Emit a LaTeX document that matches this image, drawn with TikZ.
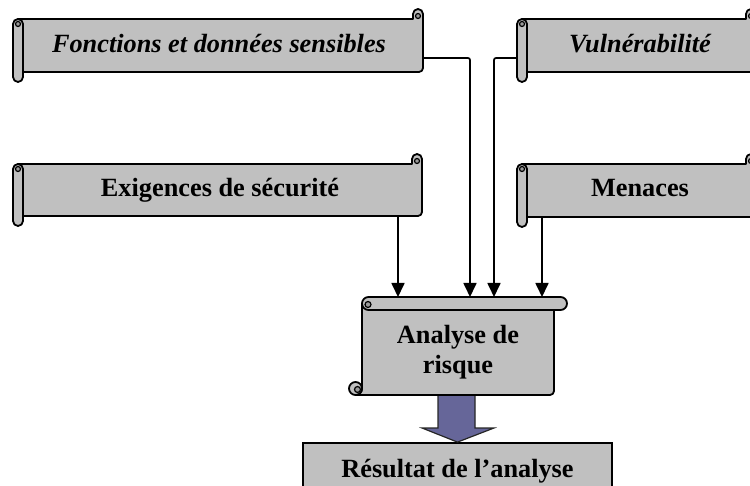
\documentclass[tikz,border=0pt]{standalone}
\usepackage{fontspec}
\setmainfont{Liberation Serif}
\usetikzlibrary{arrows.meta,calc}

\definecolor{scrollgray}{HTML}{C0C0C0}
\definecolor{curlgray}{HTML}{9A9A9A}
\definecolor{arrowfill}{HTML}{666699}

\tikzset{
  scroll/.style={fill=scrollgray, draw=black, line width=1.8pt, line join=round},
  curl/.style={fill=curlgray, draw=black, line width=1.2pt},
  label/.style={font=\fontsize{26.3}{30}\selectfont\bfseries, align=center, inner sep=0pt},
  conn/.style={draw=black, line width=1.7pt, rounded corners=2pt,
               -{Triangle[length=14pt,width=13pt]}},
  bigarrow/.style={fill=arrowfill, draw=black!85, line width=1.2pt, line join=miter},
  plainbox/.style={fill=scrollgray, draw=black, line width=1.8pt},
}

% Horizontal scroll: left, right, top, bottom (y measured downwards)
\newcommand\hscrollshape[4]{%
  \draw[scroll] ({#1+5},{-(#3+10)}) -- ({#2-10},{-(#3+10)}) -- ({#2-10},{-(#3+5)})
    arc[start angle=180,end angle=0,radius=5] -- ({#2},{-(#4-14)})
    arc[start angle=0,end angle=-90,radius=4] -- ({#1+5},{-(#4-10)}) -- cycle;
  \draw[curl] ({#2-5},{-(#3+7)}) circle[radius=2.5];
  \draw[scroll, rounded corners=5pt] ({#1},{-(#3+10)}) rectangle ({#1+10},{-(#4)});
  \draw[curl] ({#1+5},{-(#3+15)}) circle[radius=2.5];
}

% Vertical scroll: left, right, top, bottom (y measured downwards)
\newcommand\vscrollshape[4]{%
  \draw[scroll] ({#1+13},{-(#3+6.5)}) -- ({#1+13},{-(#4-6.5)})
    arc[start angle=0,end angle=-90,radius=6.5] -- ({#2-17},{-(#4)})
    arc[start angle=-90,end angle=0,radius=4] -- ({#2-13},{-(#3+6.5)}) -- cycle;
  \draw[scroll] ({#1+6.5},{-(#4-6.5)}) circle[radius=6.5];
  \draw[curl] ({#1+8.5},{-(#4-5.5)}) circle[radius=3];
  \draw[scroll, rounded corners=6.5pt] ({#1+13},{-(#3)}) rectangle ({#2},{-(#3+13)});
  \draw[curl] ({#1+19},{-(#3+7.5)}) circle[radius=3];
}

\begin{document}
\begin{tikzpicture}[x=1pt,y=1pt]
  \useasboundingbox (0,0) rectangle (750,-486);
  \clip (0,0) rectangle (750,-486);

  % result box and the broad arrow leading to it
  \node[plainbox, minimum width=309pt, minimum height=56pt, inner sep=0pt,
        font=\fontsize{26.3}{30}\selectfont\bfseries] (res) at (457.5,-471) {Résultat de l’analyse};
  \coordinate (anabottom) at (457,-395);
  \draw[bigarrow] ($(anabottom)+(-19,0)$) -- ($(anabottom)+(-19,-33)$)
    -- ($(anabottom)+(-35,-33)$) -- (res.north) -- ($(anabottom)+(37,-33)$)
    -- ($(anabottom)+(18,-33)$) -- ($(anabottom)+(18,0)$) -- cycle;

  % scrolls
  \hscrollshape{13}{423}{9}{82}
  \hscrollshape{517}{756}{9}{82}
  \hscrollshape{13}{422}{154}{226}
  \hscrollshape{517}{756}{154}{227}
  \vscrollshape{349}{567}{297}{395}

  % labels
  \node[label, anchor=base, font=\fontsize{26.3}{30}\selectfont\bfseries\itshape] (fds) at (219,-53) {Fonctions et données sensibles};
  \node[label, anchor=base, font=\fontsize{26.3}{30}\selectfont\bfseries\itshape] (vul) at (640,-53) {Vulnérabilité};
  \node[label, anchor=base] (exi) at (220,-197) {Exigences de sécurité};
  \node[label, anchor=base] (men) at (640,-197) {Menaces};
  \node[label] (ana) at (458,-352) {Analyse de\\risque};

  % connector end points
  \coordinate (fds-out) at (423,-58);
  \coordinate (vul-out) at (517,-58);
  \coordinate (exi-out) at (398,-216);
  \coordinate (men-out) at (542,-217);
  \coordinate (in-exi) at (398,-297);
  \coordinate (in-fds) at (470,-297);
  \coordinate (in-vul) at (494,-297);
  \coordinate (in-men) at (542,-297);

  \draw[conn] (fds-out) -| (in-fds);
  \draw[conn] (vul-out) -| (in-vul);
  \draw[conn] (exi-out) -- (in-exi);
  \draw[conn] (men-out) -- (in-men);
\end{tikzpicture}
\end{document}
